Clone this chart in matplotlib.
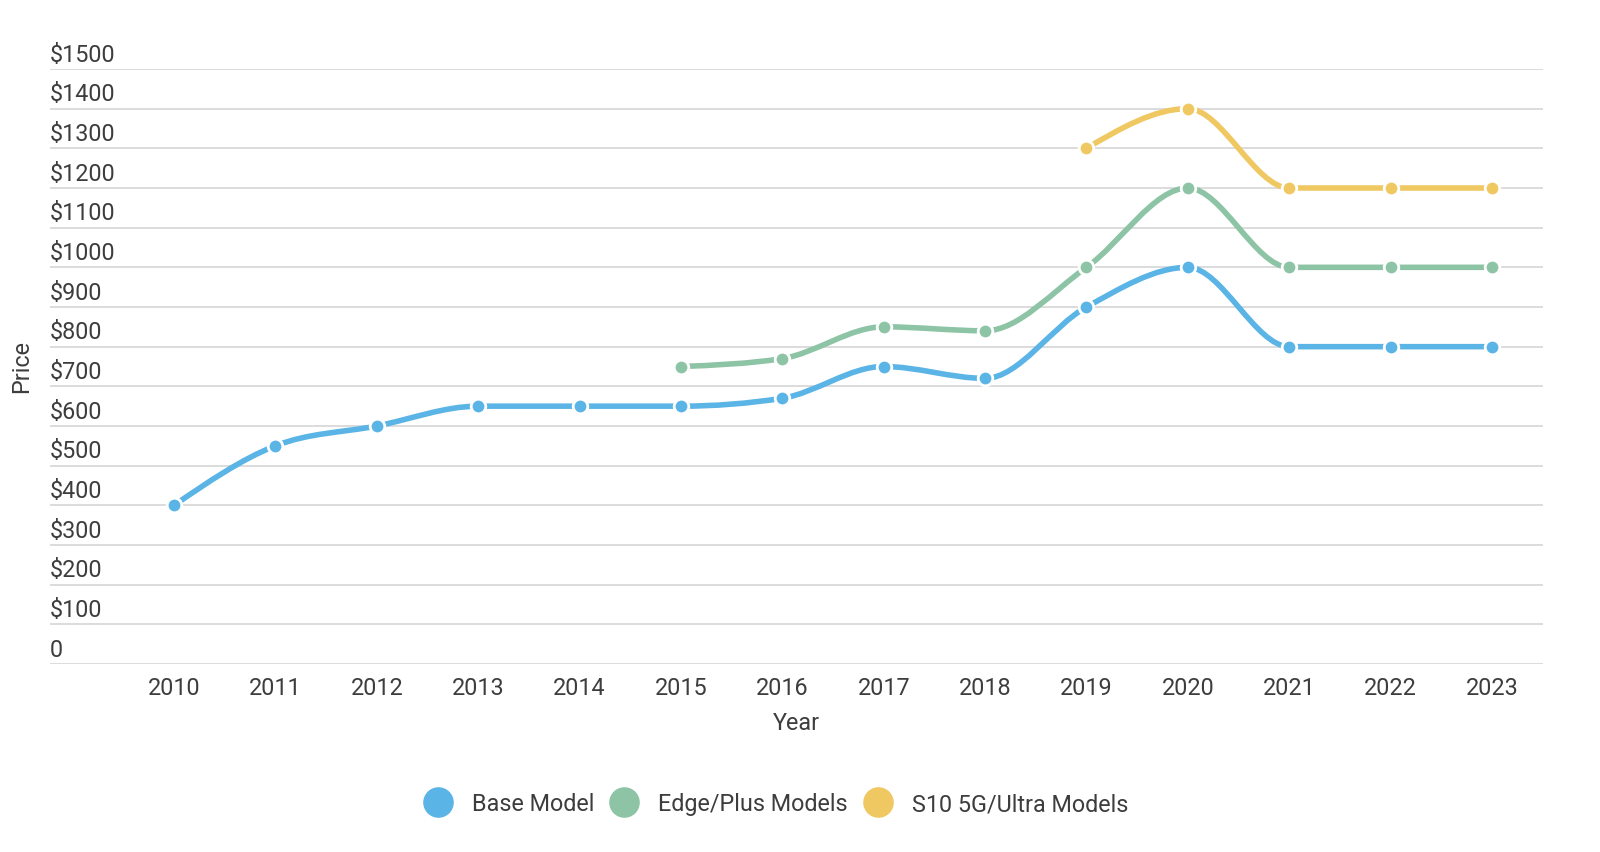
import numpy as np
import matplotlib
matplotlib.use("Agg")
import matplotlib.pyplot as plt
from matplotlib.lines import Line2D
from matplotlib.path import Path
from matplotlib.patches import PathPatch

plt.rcParams['font.family'] = ['Roboto', 'DejaVu Sans']

years = [2010, 2011, 2012, 2013, 2014, 2015, 2016, 2017, 2018, 2019, 2020, 2021, 2022, 2023]
base_years = years
base_vals = [400, 550, 600, 650, 650, 650, 670, 750, 720, 900, 1000, 800, 800, 800]
edge_years = [2015, 2016, 2017, 2018, 2019, 2020, 2021, 2022, 2023]
edge_vals = [750, 770, 850, 840, 1000, 1200, 1000, 1000, 1000]
ultra_years = [2019, 2020, 2021, 2022, 2023]
ultra_vals = [1300, 1400, 1200, 1200, 1200]
series_names = ["Base Model", "Edge/Plus Models", "S10 5G/Ultra Models"]
colors = ["#5AB4E5", "#8DC4A5", "#F0C862"]
yticks = list(range(0, 1600, 100))
ytick_labels = ["0"] + [f"${v}" for v in yticks[1:]]

TEXT = "#3d3d3d"
FS = 16.8


def monotone_slopes(x, y):
    x = np.asarray(x, float); y = np.asarray(y, float)
    n = len(x)
    t = np.zeros(n)
    for i in range(1, n - 1):
        h0 = x[i] - x[i - 1]; h1 = x[i + 1] - x[i]
        s0 = (y[i] - y[i - 1]) / h0; s1 = (y[i + 1] - y[i]) / h1
        p = (s0 * h1 + s1 * h0) / (h0 + h1)
        t[i] = (np.sign(s0) + np.sign(s1)) * min(abs(s0), abs(s1), 0.5 * abs(p))
    if n >= 2:
        h = x[1] - x[0]
        t[0] = (3 * (y[1] - y[0]) / h - t[1]) / 2 if n > 2 else (y[1] - y[0]) / h
        h = x[-1] - x[-2]
        t[-1] = (3 * (y[-1] - y[-2]) / h - t[-2]) / 2 if n > 2 else (y[-1] - y[-2]) / h
    return t


def monotone_path(x, y):
    t = monotone_slopes(x, y)
    verts = [(x[0], y[0])]
    codes = [Path.MOVETO]
    for i in range(len(x) - 1):
        dx = (x[i + 1] - x[i]) / 3
        verts += [(x[i] + dx, y[i] + dx * t[i]),
                  (x[i + 1] - dx, y[i + 1] - dx * t[i + 1]),
                  (x[i + 1], y[i + 1])]
        codes += [Path.CURVE4] * 3
    return Path(verts, codes)


W, H = 1600, 853
fig = plt.figure(figsize=(W / 100, H / 100), dpi=100)
ax = fig.add_axes([50 / W, 1 - 665 / H, (1543 - 50) / W, (665 - 70) / H])

ax.set_xlim(2010 - 124 / 101.4, 2023 + 51 / 101.4)
ax.set_ylim(0, 1500)

for v in yticks:
    ax.axhline(v, color="#d9d9d9", lw=1.3, zorder=0)

for s in ax.spines.values():
    s.set_visible(False)
ax.set_yticks([])
ax.set_xticks(years)
ax.set_xticklabels([str(y) for y in years], fontsize=FS, color=TEXT)
ax.tick_params(axis='x', length=0, pad=9)

for v, lab in zip(yticks, ytick_labels):
    ax.annotate(lab, xy=(0, v), xycoords=('axes fraction', 'data'),
                xytext=(0, 2.5), textcoords='offset points',
                ha='left', va='bottom', fontsize=FS, color=TEXT)

ax.set_xlabel("Year", fontsize=FS, color=TEXT, labelpad=8)
fig.text(22 / W, 1 - 367 / H, "Price", rotation=90, fontsize=FS, color=TEXT,
         ha='center', va='center')

data = [(base_years, base_vals), (edge_years, edge_vals), (ultra_years, ultra_vals)]
for (xs, ys), c in zip(data, colors):
    p = monotone_path(np.asarray(xs, float), np.asarray(ys, float))
    ax.add_patch(PathPatch(p, facecolor='none', edgecolor=c, lw=4.0,
                           capstyle='butt', zorder=3, clip_on=False))
    ax.plot(xs, ys, linestyle='none', marker='o', markersize=10.5,
            markerfacecolor=c, markeredgecolor='white', markeredgewidth=2,
            zorder=4, clip_on=False)

handles = [Line2D([], [], linestyle='none', marker='o', markersize=21,
                  markerfacecolor=c, markeredgecolor=c) for c in colors]
fig.legend(handles, series_names, loc='center', bbox_to_anchor=(776 / W, 1 - 805 / H),
           ncol=3, frameon=False, fontsize=FS, labelcolor=TEXT,
           handletextpad=0.85, columnspacing=0.7, handlelength=1.2)

fig.savefig("out.png", dpi=100, facecolor='white')
